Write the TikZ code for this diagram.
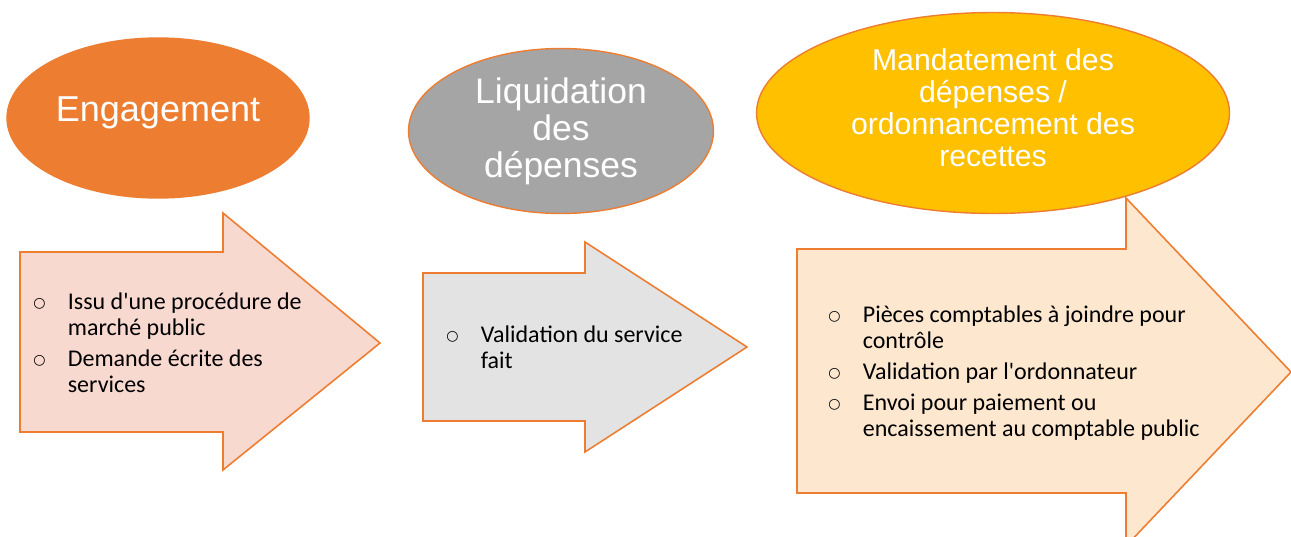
\documentclass[tikz,border=0pt]{standalone}
\usepackage{fontspec}
\setmainfont{Carlito}
\newfontfamily\titre{Liberation Sans}
\newfontfamily\symb{DejaVu Sans}
\usetikzlibrary{shapes.geometric}

\definecolor{orangeA}{HTML}{ED7D31}
\definecolor{grisA}{HTML}{A5A5A5}
\definecolor{jauneA}{HTML}{FFC000}
\definecolor{roseA}{HTML}{F8D9D0}
\definecolor{grisB}{HTML}{E3E3E3}
\definecolor{pecheA}{HTML}{FDE7CF}

\newcommand{\puce}{\raisebox{0.8pt}{\symb\fontsize{8}{8}\selectfont ○}}

\begin{document}
\begin{tikzpicture}[x=0.02cm, y=-0.02cm,
        etape/.style={ellipse, draw=orangeA, line width=0.8pt, text=white, align=center, inner sep=0pt},
        fleche/.style={draw=orangeA, line width=0.9pt},
        liste/.style={anchor=base west, inner sep=0pt, font=\fontsize{13.66}{14.8}\selectfont}
    ]
        \useasboundingbox (0,0) rectangle (1291,537);
        \clip (0,0) rectangle (1291,537);

        % Fleches
        \draw[fleche, fill=roseA] (20,252) -- (223,252) -- (223,213) -- (380,343)
            -- (223,470) -- (223,432) -- (20,432) -- cycle;
        \draw[fleche, fill=grisB] (423,273) -- (585,273) -- (585,242) -- (747,347)
            -- (585,452) -- (585,421) -- (423,421) -- cycle;
        \draw[fleche, fill=pecheA] (797,249) -- (1126,249) -- (1126,198) -- (1291,372)
            -- (1126,546) -- (1126,493) -- (797,493) -- cycle;

        % Etapes
        \node[etape, fill=orangeA, minimum width=6.04cm, minimum height=3.2cm,
            font=\titre\fontsize{20.5}{24}\selectfont] (engagement) at (158,118)
            {Engagement\rule[-0.35cm]{0pt}{0pt}};
        \node[etape, fill=grisA, minimum width=6.1cm, minimum height=3.3cm,
            font=\titre\fontsize{20.2}{21}\selectfont] (liquidation) at (561,131)
            {Liquidation\\des\\dépenses};
        \node[etape, fill=jauneA, minimum width=9.46cm, minimum height=4.02cm,
            font=\titre\fontsize{17.2}{18.2}\selectfont] (mandatement) at (993,113)
            {Mandatement des\\dépenses /\\ordonnancement des\\recettes\rule[-0.2cm]{0pt}{0pt}};

        % Listes
        \node[liste] (liste1) at (33,309) {\begin{tabular}[t]{@{}p{0.69cm}@{}l@{}}
            \puce & Issu d\textquotesingle une procédure de\\
                  & marché public\\[0.1cm]
            \puce & Demande écrite des\\
                  & services
        \end{tabular}};
        \node[liste] (liste2) at (446,342) {\begin{tabular}[t]{@{}p{0.69cm}@{}l@{}}
            \puce & Validation du service\\
                  & fait
        \end{tabular}};
        \node[liste] (liste3) at (828,322) {\begin{tabular}[t]{@{}p{0.69cm}@{}l@{}}
            \puce & Pièces comptables à joindre pour\\
                  & contrôle\\[0.1cm]
            \puce & Validation par l\textquotesingle ordonnateur\\[0.1cm]
            \puce & Envoi pour paiement ou\\
                  & encaissement au comptable public
        \end{tabular}};
    \end{tikzpicture}
\end{document}
